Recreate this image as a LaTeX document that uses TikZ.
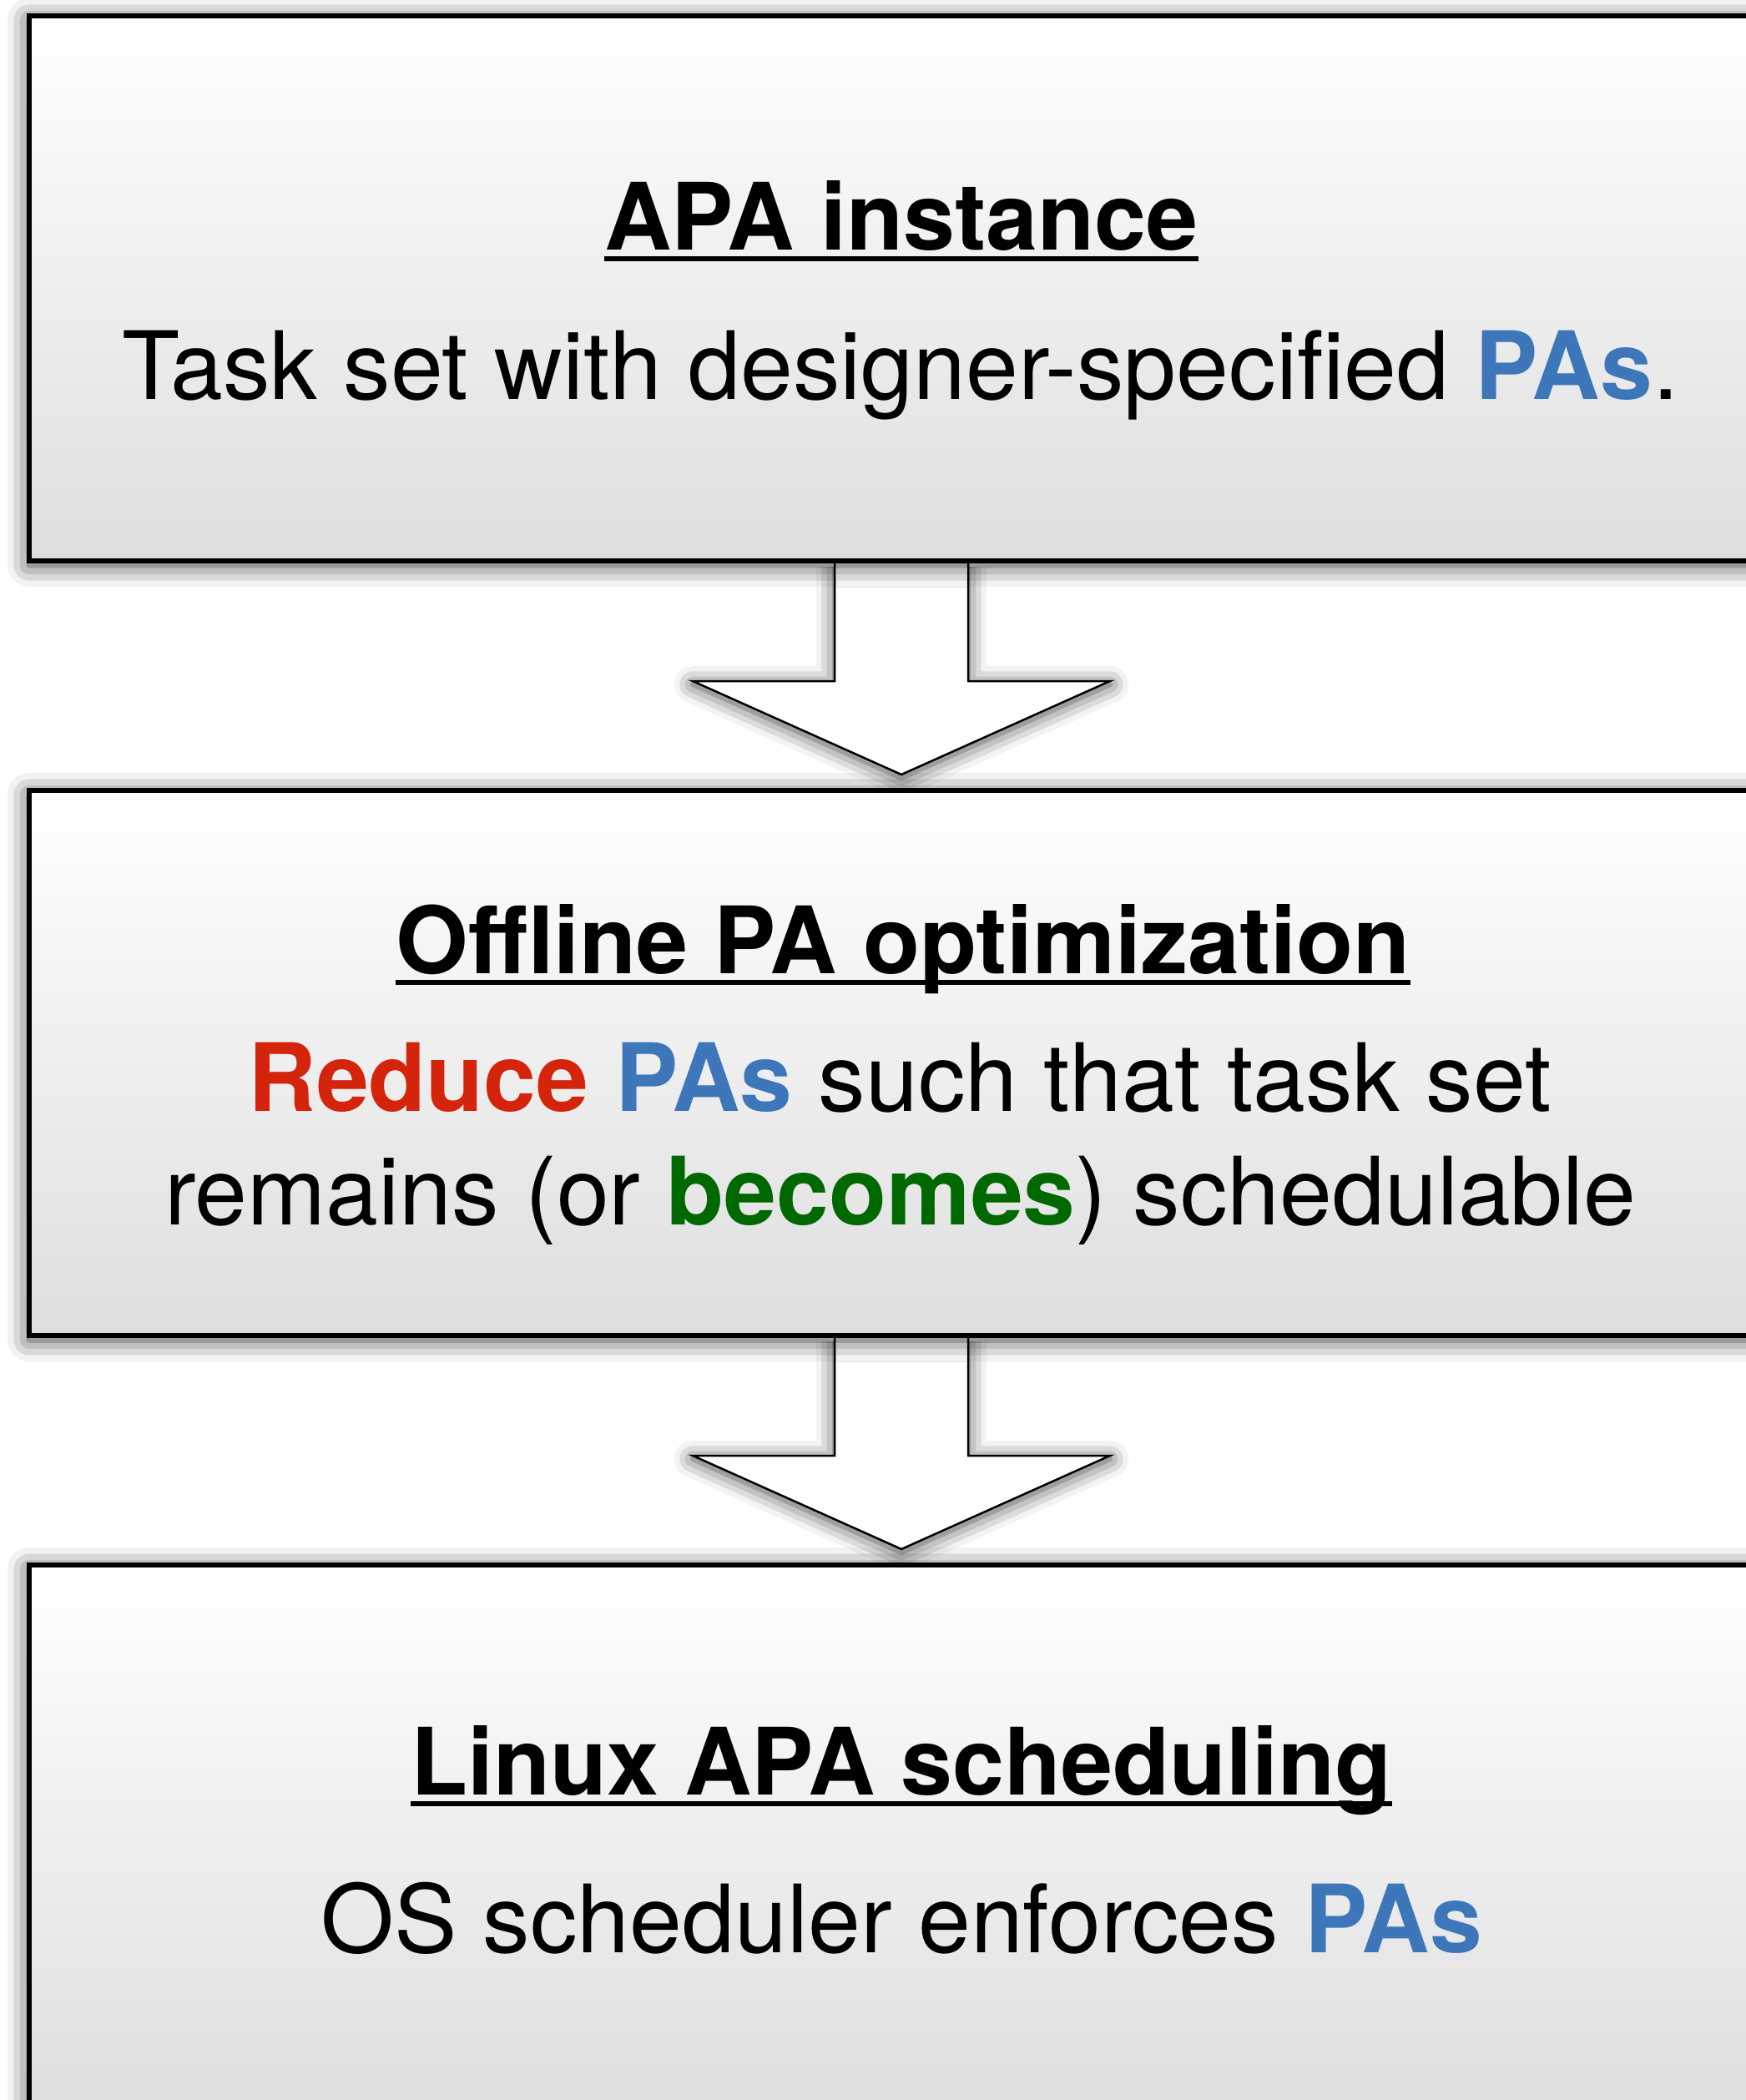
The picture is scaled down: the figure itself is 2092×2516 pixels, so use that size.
\documentclass[tikz,border=0pt]{standalone}
\usepackage{fontspec}
\setmainfont{TeX Gyre Heros}
\usetikzlibrary{calc,shadows.blur}
\definecolor{paBlue}{RGB}{61,119,185}
\definecolor{redText}{RGB}{212,36,12}
\definecolor{greenText}{RGB}{0,104,0}
\definecolor{boxBottom}{RGB}{222,222,222}
\pgfdeclarelayer{bg}
\pgfsetlayers{bg,main}
\newcommand{\bigtext}{\fontsize{111.4pt}{136pt}\selectfont}
\newcommand{\bodysize}{\fontsize{113pt}{136pt}\selectfont}
\tikzset{
  stage/.style={draw=black, line width=6pt, minimum width=2090pt, minimum height=653pt,
    top color=white, bottom color=boxBottom, inner sep=0pt,
    blur shadow={shadow xshift=0pt, shadow yshift=-5pt, shadow blur radius=26pt, shadow opacity=80}},
  heading/.style={font=\bigtext\bfseries, inner sep=0pt, anchor=base},
  bodytext/.style={font=\bodysize, inner sep=0pt, anchor=base},
  flowarrow/.style={draw=black, line width=2.5pt, fill=white, line join=miter,
    blur shadow={shadow xshift=0pt, shadow yshift=-4pt, shadow blur radius=22pt, shadow opacity=75}},
  uline/.style={line width=6pt}
}
\begin{document}
\begin{tikzpicture}[x=1pt,y=-1pt]
\useasboundingbox (0,0) rectangle (2092,2516);

% the three stages
\node[stage] (b1) at (1080,345.5) {};
\node[stage] (b2) at (1080,1273.5) {};
\node[stage] (b3) at (1080,2201.5) {};

% stage 1
\node[heading] (t1) at (1080,299) {APA instance};
\draw[uline] ($(t1.base west)+(0,11)$) -- ($(t1.base east)+(0,11)$);
\node[bodytext] (d1) at (1079,478) {Task set with designer-specified \textcolor{paBlue}{\bfseries PAs}.};

% stage 2
\node[heading] (t2) at (1082,1166) {Offline PA optimization};
\draw[uline] ($(t2.base west)+(0,11)$) -- ($(t2.base east)+(0,11)$);
\node[bodytext] (d2a) at (1078,1331) {\textcolor{redText}{\bfseries Reduce} \textcolor{paBlue}{\bfseries PAs} such that task set};
\node[bodytext] (d2b) at (1079,1467) {remains (or \textcolor{greenText}{\bfseries becomes}) schedulable};

% stage 3
\node[heading] (t3) at (1080,2150) {Linux APA scheduling};
\draw[uline] ($(t3.base west)+(0,11)$) -- ($(t3.base east)+(0,11)$);
\node[bodytext] (d3) at (1080,2339) {OS scheduler enforces \textcolor{paBlue}{\bfseries PAs}};

% block arrows between the stages, kept behind the boxes
\begin{pgfonlayer}{bg}
\foreach \a/\b in {b1/b2, b2/b3}{
  \path[flowarrow] ($(\a.south)+(-80,0)$) -- ($(\a.south)+(-80,141)$)
    -- ($(\a.south)+(-250,141)$) -- ($(\b.north)+(0,-16)$)
    -- ($(\a.south)+(250,141)$) -- ($(\a.south)+(80,141)$)
    -- ($(\a.south)+(80,0)$);
}
\end{pgfonlayer}
\end{tikzpicture}
\end{document}
